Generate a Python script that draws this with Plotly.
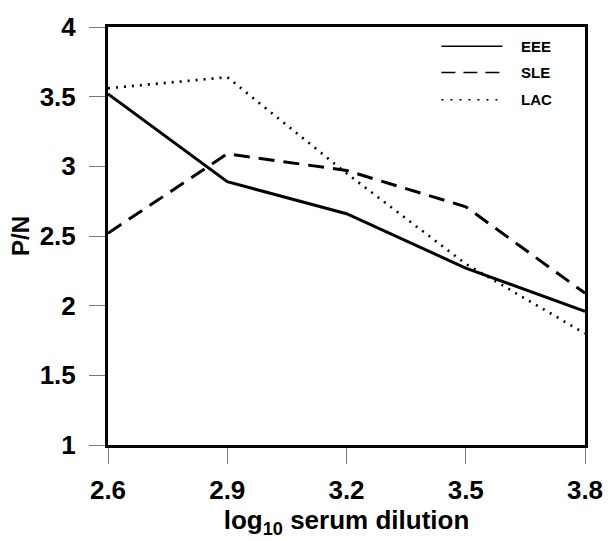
import plotly.graph_objects as go

x_vals = [2.6, 2.9, 3.2, 3.5, 3.8]
eee = [3.52, 2.89, 2.66, 2.27, 1.96]
sle = [2.52, 3.09, 2.97, 2.71, 2.09]
lac = [3.56, 3.64, 2.95, 2.30, 1.80]
series_names = ["EEE", "SLE", "LAC"]
x_ticks = [2.6, 2.9, 3.2, 3.5, 3.8]
y_ticks = [1, 1.5, 2, 2.5, 3, 3.5, 4]
y_tick_labels = ["1", "1.5", "2", "2.5", "3", "3.5", "4"]

dashes = ["solid", "16px,9px", "2px,6px"]
widths = [3, 3, 2.6]
legend_dashes = ["solid", "14px,8px", "2px,7px"]

fig = go.Figure()
for name, ys, d, w in zip(series_names, [eee, sle, lac], dashes, widths):
    fig.add_trace(go.Scatter(x=x_vals, y=ys, mode="lines", name=name,
                             line=dict(color="black", width=w, dash=d),
                             showlegend=False))

# manual legend (paper coords)
leg_y = [0.954, 0.891, 0.826]
for name, d, yy in zip(series_names, legend_dashes, leg_y):
    fig.add_shape(type="line", xref="paper", yref="paper",
                  x0=0.699, x1=0.827, y0=yy, y1=yy,
                  line=dict(color="black", width=1.5, dash=d))
    fig.add_annotation(xref="paper", yref="paper", x=0.862, y=yy, text=f"<b>{name}</b>",
                       showarrow=False, xanchor="left", yanchor="middle",
                       font=dict(family="Liberation Sans", size=15, color="black"))

tickfont = dict(family="Liberation Sans", size=26, color="black")
fig.update_xaxes(range=[2.6, 3.8], tickvals=x_ticks, ticktext=[f"<b>{v:.1f}</b>" for v in x_ticks],
                 showline=True, linewidth=3, linecolor="black", mirror=True,
                 ticks="outside", ticklen=16, tickwidth=1, tickcolor="#777",
                 ticklabelstandoff=4,
                 showgrid=False, zeroline=False, tickfont=tickfont,
                 title=dict(text="<b>log<sub>10</sub> serum dilution</b>", standoff=6,
                            font=dict(family="Liberation Sans", size=26, color="black")))
fig.update_yaxes(range=[1, 4], tickvals=y_ticks, ticktext=[f"<b>{t}</b>" for t in y_tick_labels],
                 showline=True, linewidth=3, linecolor="black", mirror=True,
                 ticks="outside", ticklen=16, tickwidth=1, tickcolor="#777",
                 ticklabelstandoff=8,
                 showgrid=False, zeroline=False, tickfont=tickfont,
                 title=dict(text="<b>P/N</b>", standoff=4,
                            font=dict(family="Liberation Sans", size=24, color="black")))
fig.update_layout(width=615, height=541, margin=dict(l=108, r=21, t=16, b=94),
                  plot_bgcolor="white", paper_bgcolor="white")
fig.write_html("out.html", config={"displayModeBar": False},
               post_script="document.body.style.margin='0';document.body.style.overflow='hidden';")
